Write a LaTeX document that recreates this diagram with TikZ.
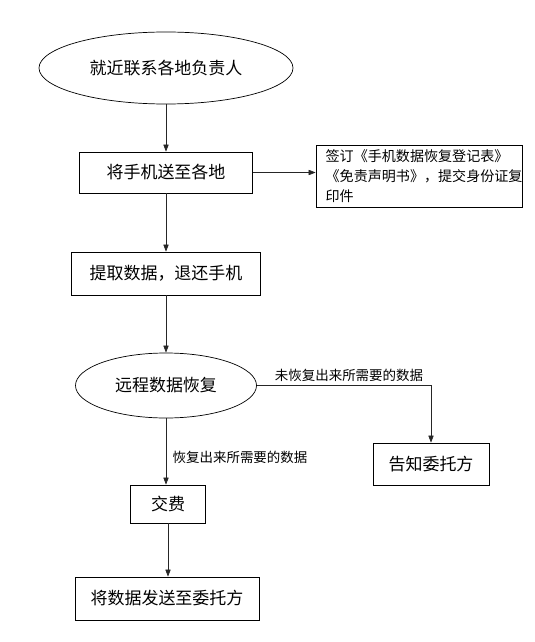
\documentclass[tikz,border=0pt]{standalone}
\usepackage{fontspec}
\newfontfamily\cjk{Noto Sans CJK SC}
\usepackage{tikz}
\usetikzlibrary{calc,positioning,arrows.meta,shapes.geometric}

\begin{document}
\begin{tikzpicture}[
  >={Triangle[length=6pt,width=4.5pt]},
  every node/.style={font=\cjk\fontsize{14.5}{17}\selectfont},
  frame/.style={draw=black,line width=0.6pt,align=center,inner sep=0pt},
  stepbox/.style={frame,rectangle},
  roundbox/.style={frame,ellipse},
  notebox/.style={frame,rectangle,align=left,font=\cjk\fontsize{12}{17}\selectfont},
  tag/.style={font=\cjk\fontsize{11.5}{13}\selectfont},
  flow/.style={->,draw=black!85,line width=0.6pt},
]
\useasboundingbox (0,0) rectangle (16.02,-19.26);

\node[roundbox,minimum width=7.62cm,minimum height=2.16cm] (contact) at (4.98,-2.04)
  {就近联系各地负责人};
\node[stepbox,minimum width=5.19cm,minimum height=1.23cm] (send) at (4.98,-5.175)
  {将手机送至各地};
\node[notebox,minimum width=6.18cm,minimum height=1.86cm,text width=5.6cm] (forms) at (12.57,-5.28)
  {签订《手机数据恢复登记表》\\《免责声明书》，提交身份证复\\印件};
\node[stepbox,minimum width=5.67cm,minimum height=1.29cm] (extract) at (4.98,-8.205)
  {提取数据，退还手机};
\node[roundbox,minimum width=5.43cm,minimum height=1.95cm] (recover) at (4.98,-11.565)
  {远程数据恢复};
\node[stepbox,minimum width=3.48cm,minimum height=1.26cm] (notify) at (12.93,-13.92)
  {告知委托方};
\node[stepbox,minimum width=2.25cm,minimum height=1.14cm] (pay) at (5.04,-15.12)
  {交费};
\node[stepbox,minimum width=5.52cm,minimum height=1.29cm] (deliver) at (5.01,-17.955)
  {将数据发送至委托方};

\draw[flow] (contact.south) -- (contact.south |- send.north);
\draw[flow] (send.east) -- (send.east -| forms.west);
\draw[flow] (send.south) -- (send.south |- extract.north);
\draw[flow] (extract.south) -- (extract.south |- recover.north);
\draw[flow] (recover.east) -| (notify.north);
\draw[flow] (recover.south) -- (recover.south |- pay.north);
\draw[flow] (pay.south) -- (pay.south |- deliver.north);

\node[tag] (failtag) at (10.47,-11.25) {未恢复出来所需要的数据};
\node[tag] (oktag) at (7.2,-13.71) {恢复出来所需要的数据};
\end{tikzpicture}
\end{document}
